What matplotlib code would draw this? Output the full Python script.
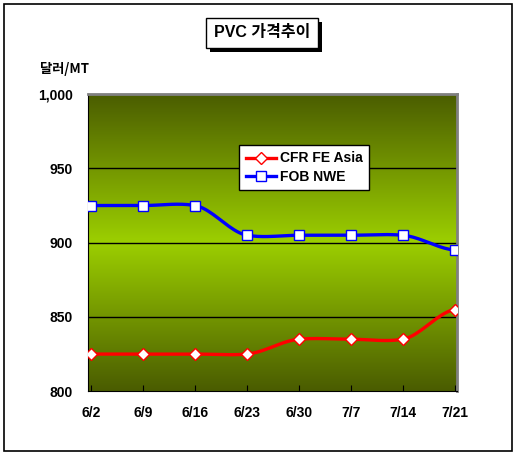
import numpy as np
import matplotlib
matplotlib.use("Agg")
import matplotlib.pyplot as plt
from matplotlib.colors import LinearSegmentedColormap
from matplotlib.patches import Rectangle
from matplotlib.lines import Line2D

dates = ['6/2', '6/9', '6/16', '6/23', '6/30', '7/7', '7/14', '7/21']
cfr_fe_asia = [825, 825, 825, 825, 835, 835, 835, 855]
fob_nwe = [925, 925, 925, 905, 905, 905, 905, 895]

plt.rcParams['font.family'] = ['Liberation Sans', 'Noto Sans CJK KR', 'DejaVu Sans']


def smooth(y, n=20, k=0.3):
    # hermite curve through the points, roughly excel's smoothed line
    y = np.asarray(y, dtype=float)
    p = np.concatenate([[y[0]], y, [y[-1]]])
    xs, ys = [], []
    for i in range(len(y) - 1):
        t = np.linspace(0, 1, n, endpoint=False)
        p1, p2 = p[i + 1], p[i + 2]
        m1 = k * (p[i + 2] - p[i])
        m2 = k * (p[i + 3] - p[i + 1])
        h00 = 2 * t ** 3 - 3 * t ** 2 + 1
        h10 = t ** 3 - 2 * t ** 2 + t
        h01 = -2 * t ** 3 + 3 * t ** 2
        h11 = t ** 3 - t ** 2
        xs.append(i + t)
        ys.append(h00 * p1 + h10 * m1 + h01 * p2 + h11 * m2)
    xs.append([len(y) - 1])
    ys.append([y[-1]])
    return np.concatenate(xs), np.concatenate(ys)


fig = plt.figure(figsize=(5.18, 4.57), dpi=100)
fig.patch.set_facecolor('white')
W, H = 518, 457

# outer frame
fig.add_artist(Rectangle((0.008, 0.013), 0.981, 0.978, transform=fig.transFigure,
                         fill=False, edgecolor='black', linewidth=1.2))

ax = fig.add_axes([0.170, 0.144, 0.712, 0.650])
x = np.arange(len(dates))

# gradient background
cmap = LinearSegmentedColormap.from_list(
    'bg', [(0, '#4a5c00'), (0.5, '#9ccf00'), (1, '#4a5c00')])
grad = np.linspace(0, 1, 256).reshape(-1, 1)
ax.imshow(grad, cmap=cmap, aspect='auto', extent=[0, 1, 0, 1],
          transform=ax.transAxes, zorder=0)

for v in [850, 900, 950]:
    ax.axhline(v, color='black', linewidth=1, zorder=1)

sx, sy = smooth(cfr_fe_asia)
ax.plot(sx, sy, color='#ff0000', linewidth=2.4, zorder=3)
ax.plot(x, cfr_fe_asia, linestyle='none', marker='D', markersize=6,
        markerfacecolor='white', markeredgecolor='#ff0000', markeredgewidth=1, zorder=4)
sx, sy = smooth(fob_nwe)
ax.plot(sx, sy, color='#0000ff', linewidth=2.4, zorder=3)
ax.plot(x, fob_nwe, linestyle='none', marker='s', markersize=6.5,
        markerfacecolor='white', markeredgecolor='#0000ff', markeredgewidth=1, zorder=4)

ax.set_xlim(-0.06, 7.04)
ax.set_ylim(800, 1000)
ax.set_xticks(x)
ax.set_xticklabels(dates, fontsize=10, fontweight='bold')
ax.set_yticks([800, 850, 900, 950, 1000])
ax.set_yticklabels(['800', '850', '900', '950', '1,000'], fontsize=10, fontweight='bold')
ax.tick_params(axis='x', direction='in', length=4, pad=11)
ax.tick_params(axis='y', length=0, pad=11)

for s in ['top', 'right']:
    ax.spines[s].set_color('#808080')
    ax.spines[s].set_linewidth(2)
ax.spines['left'].set_color('black')
ax.spines['bottom'].set_color('black')

# legend
handles = [
    Line2D([], [], color='#ff0000', linewidth=2.4, marker='D', markersize=6,
           markerfacecolor='white', markeredgecolor='#ff0000'),
    Line2D([], [], color='#0000ff', linewidth=2.4, marker='s', markersize=6.5,
           markerfacecolor='white', markeredgecolor='#0000ff'),
]
leg = ax.legend(handles, ['CFR FE Asia', 'FOB NWE'], loc='upper left',
                bbox_to_anchor=(0.41, 0.828), borderaxespad=0, frameon=True,
                fancybox=False, prop={'weight': 'bold', 'size': 10},
                handlelength=2.2, borderpad=0.45, labelspacing=0.3, handletextpad=0.3)
leg.get_frame().set_edgecolor('black')
leg.get_frame().set_linewidth(1)
leg.get_frame().set_alpha(1)

# title box with shadow
fig.add_artist(Rectangle((210 / W, 1 - 52 / H), 112 / W, 30 / H, transform=fig.transFigure,
                         facecolor='black', edgecolor='none'))
fig.add_artist(Rectangle((206 / W, 1 - 48 / H), 112 / W, 30 / H, transform=fig.transFigure,
                         facecolor='white', edgecolor='black', linewidth=1))
fig.text(262 / W, 1 - 33 / H, 'PVC 가격추이', ha='center', va='center', fontsize=11.5,
         fontweight='bold', family=['Liberation Sans', 'Noto Sans CJK KR'])

fig.text(0.077, 0.84, '달러/MT', fontsize=9.5, fontweight='bold',
         family=['Noto Sans CJK KR', 'Liberation Sans'])

fig.savefig('out.png', dpi=100)
